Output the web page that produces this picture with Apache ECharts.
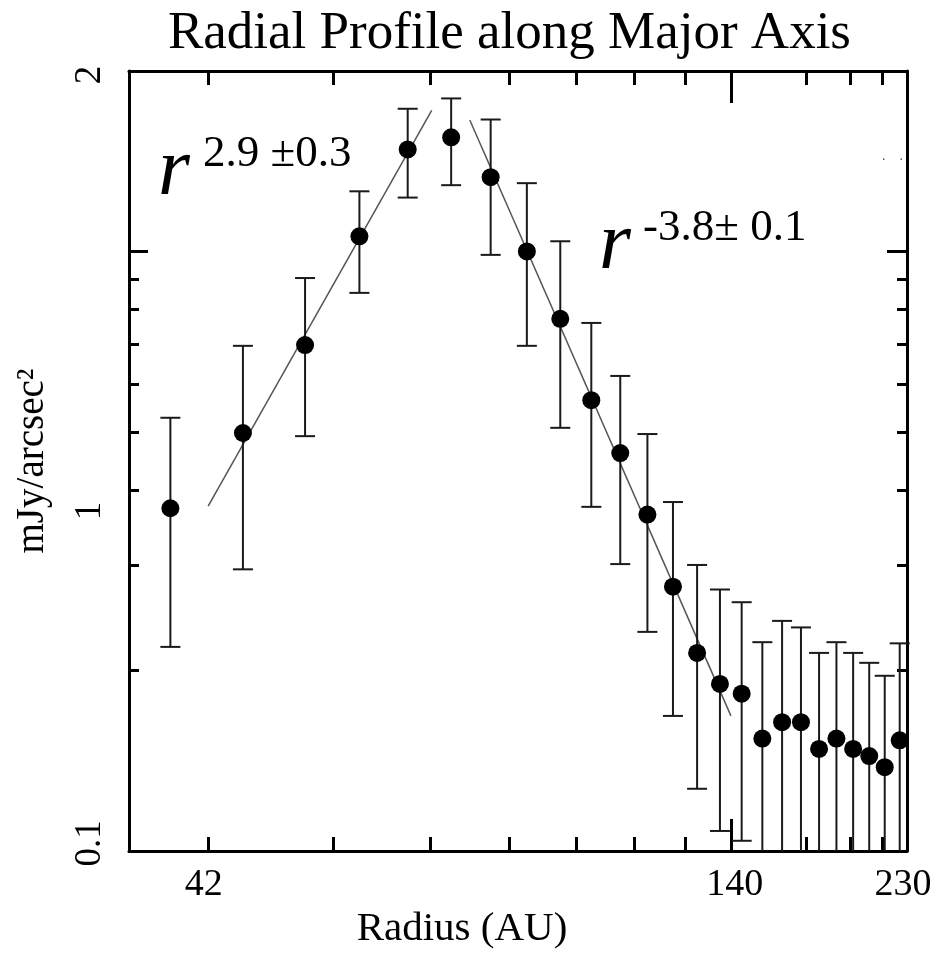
<!DOCTYPE html>
<html>
<head>
<meta charset="utf-8">
<script src="https://cdn.jsdelivr.net/npm/echarts@6/dist/echarts.min.js"></script>
<style>
html,body{margin:0;padding:0;background:#fff;}
#chart{width:942px;height:955px;}
</style>
</head>
<body>
<div id="chart"></div>
<script>
// ---- data ----
const radiusAU = [27.5, 32.5, 37.5, 42.5, 47.5, 52.5, 57.5, 62.5, 67.5, 72.5, 77.5, 82.5, 87.5,
                  92.5, 97.5, 102.5, 107.5, 112.5, 117.5, 122.5, 127.5, 132.5, 137.5, 142.5, 147.5];
const brightness = [0.373, 0.498, 0.698, 1.06, 1.48, 1.55, 1.33, 1.00, 0.772, 0.565, 0.461, 0.364, 0.276,
                    0.214, 0.190, 0.183, 0.154, 0.164, 0.164, 0.148, 0.154, 0.148, 0.144, 0.138, 0.153];
const errUpper = [0.528, 0.696, 0.903, 1.26, 1.73, 1.80, 1.66, 1.30, 1.04, 0.760, 0.620, 0.496, 0.382,
                  0.300, 0.273, 0.260, 0.223, 0.242, 0.236, 0.214, 0.223, 0.214, 0.206, 0.196, 0.222];
const errLower = [0.219, 0.295, 0.492, 0.853, 1.23, 1.29, 0.987, 0.696, 0.508, 0.375, 0.301, 0.232, 0.168,
                  0.127, 0.108, 0.104, 0.08, 0.08, 0.08, 0.08, 0.08, 0.08, 0.08, 0.08, 0.08];

// power-law fits (end points)
const fitInnerX = [30, 50.2];
const fitInnerY = [0.376, 1.72];
const fitOuterX = [54.8, 100];
const fitOuterY = [1.657, 0.168];

// axes
const xRange = [25, 150];
const yRange = [0.1, 2];
const xMinorTicks = [30, 40, 50, 60, 70, 80, 90, 119, 131.5, 141.6];
const xMajorTicks = [100];
const yMinorTicks = [0.2, 0.3, 0.4, 0.5, 0.6, 0.7, 0.8, 0.9];
const yMajorTicks = [1];
const xLabelAt = [29.7, 100.9, 148.6];
const xLabelText = ['42', '140', '230'];
const yLabelAt = [0.103, 0.369, 1.97];
const yLabelText = ['0.1', '1', '2'];

const titleText = 'Radial Profile along Major Axis';
const xName = 'Radius (AU)';
const yName = 'mJy/arcsec\u00B2';
const fitInnerLabel = ['r', '2.9 \u00B10.3'];
const fitOuterLabel = ['r', '-3.8\u00B1 0.1'];

// ---- chart ----
const FONT = '"Liberation Serif", "Times New Roman", serif';
function pickLabel(val, at, txt) {
  let best = 0, bd = Infinity;
  for (let i = 0; i < at.length; i++) {
    const d = Math.abs(Math.log(val) - Math.log(at[i]));
    if (d < bd) { bd = d; best = i; }
  }
  return txt[best];
}
function axisBase(type, pos, range) {
  return {
    type: 'log', logBase: 10, min: range[0], max: range[1], position: pos,
    splitLine: { show: false }, minorTick: { show: false }, minorSplitLine: { show: false },
    axisLine: { show: false }, axisLabel: { show: false }, axisTick: { show: false }
  };
}
const lineBlack = { color: '#000', width: 3 };

const xAxes = [];
const yAxes = [];
xAxes.push(Object.assign(axisBase('x', 'bottom', xRange), {
  axisLine: { show: true, onZero: false, lineStyle: lineBlack },
  axisTick: { show: true, inside: true, length: 14, customValues: xMinorTicks, lineStyle: lineBlack },
  axisLabel: {
    show: true, customValues: xLabelAt, margin: 15, hideOverlap: false,
    fontFamily: FONT, fontSize: 38, color: '#000',
    formatter: v => pickLabel(v, xLabelAt, xLabelText)
  },
  name: xName, nameLocation: 'middle', nameGap: 52,
  nameTextStyle: { fontFamily: FONT, fontSize: 41, color: '#000', padding: [0, 112, 0, 0] }
}));
xAxes.push(Object.assign(axisBase('x', 'bottom', xRange), {
  axisTick: { show: true, inside: true, length: 32, customValues: xMajorTicks, lineStyle: lineBlack }
}));
xAxes.push(Object.assign(axisBase('x', 'top', xRange), {
  axisLine: { show: true, onZero: false, lineStyle: lineBlack },
  axisTick: { show: true, inside: true, length: 14, customValues: xMinorTicks, lineStyle: lineBlack }
}));
xAxes.push(Object.assign(axisBase('x', 'top', xRange), {
  axisTick: { show: true, inside: true, length: 32, customValues: xMajorTicks, lineStyle: lineBlack }
}));

yAxes.push(Object.assign(axisBase('y', 'left', yRange), {
  axisLine: { show: true, onZero: false, lineStyle: lineBlack },
  axisTick: { show: true, inside: true, length: 10, customValues: yMinorTicks, lineStyle: lineBlack },
  axisLabel: {
    show: true, customValues: yLabelAt, margin: 20, rotate: 90, hideOverlap: false,
    fontFamily: FONT, fontSize: 37, color: '#000',
    formatter: v => pickLabel(v, yLabelAt, yLabelText)
  },
  name: yName, nameLocation: 'middle', nameGap: 77,
  nameTextStyle: { fontFamily: FONT, fontSize: 39, color: '#000' }
}));
yAxes.push(Object.assign(axisBase('y', 'left', yRange), {
  axisTick: { show: true, inside: true, length: 19, customValues: yMajorTicks, lineStyle: lineBlack }
}));
yAxes.push(Object.assign(axisBase('y', 'right', yRange), {
  axisLine: { show: true, onZero: false, lineStyle: lineBlack },
  axisTick: { show: true, inside: true, length: 10, customValues: yMinorTicks, lineStyle: lineBlack }
}));
yAxes.push(Object.assign(axisBase('y', 'right', yRange), {
  axisTick: { show: true, inside: true, length: 20, customValues: yMajorTicks, lineStyle: lineBlack }
}));

const points = radiusAU.map((r, i) => [r, brightness[i]]);
const bars = radiusAU.map((r, i) => [r, errLower[i], errUpper[i]]);

const chart = echarts.init(document.getElementById('chart'), null, { renderer: 'canvas' });
chart.setOption({
  animation: false,
  backgroundColor: '#fff',
  title: {
    text: titleText, left: 163, top: 3,
    textStyle: { fontFamily: FONT, fontSize: 53, fontWeight: 'normal', color: '#000' }
  },
  grid: { left: 129, right: 35, top: 71, bottom: 104, containLabel: false },
  xAxis: xAxes,
  yAxis: yAxes,
  series: [
    {
      type: 'line', xAxisIndex: 0, yAxisIndex: 0, showSymbol: false, silent: true,
      data: fitInnerX.map((x, i) => [x, fitInnerY[i]]),
      lineStyle: { color: '#555', width: 1.5 }, z: 2
    },
    {
      type: 'line', xAxisIndex: 0, yAxisIndex: 0, showSymbol: false, silent: true,
      data: fitOuterX.map((x, i) => [x, fitOuterY[i]]),
      lineStyle: { color: '#555', width: 1.5 }, z: 2
    },
    {
      type: 'custom', xAxisIndex: 0, yAxisIndex: 0, data: bars, z: 3,
      renderItem: function (params, api) {
        const x = api.value(0), lo = api.value(1), hi = api.value(2);
        const pHi = api.coord([x, hi]);
        const pLo = api.coord([x, lo]);
        const cs = params.coordSys;
        const top = cs.y, bottom = cs.y + cs.height;
        const yHi = Math.max(pHi[1], top), yLo = Math.min(pLo[1], bottom);
        const st = { stroke: '#1a1a1a', lineWidth: 2 };
        const hw = 10;
        const children = [{ type: 'line', shape: { x1: pHi[0], y1: yHi, x2: pLo[0], y2: yLo }, style: st }];
        if (pHi[1] >= top) children.push({ type: 'line', shape: { x1: pHi[0] - hw, y1: pHi[1], x2: pHi[0] + hw, y2: pHi[1] }, style: st });
        if (pLo[1] <= bottom) children.push({ type: 'line', shape: { x1: pLo[0] - hw, y1: pLo[1], x2: pLo[0] + hw, y2: pLo[1] }, style: st });
        return { type: 'group', children: children };
      }
    },
    {
      type: 'scatter', xAxisIndex: 0, yAxisIndex: 0, data: points,
      symbol: 'circle', symbolSize: 18, itemStyle: { color: '#000', opacity: 1 }, z: 4
    }
  ],
  graphic: [
    { type: 'text', left: 158, top: 131, style: { text: fitInnerLabel[0], fontStyle: 'italic', fontSize: 82, fontFamily: FONT, fill: '#000' } },
    { type: 'text', left: 203, top: 132, style: { text: fitInnerLabel[1], fontSize: 45, fontFamily: FONT, fill: '#000' } },
    { type: 'text', left: 599, top: 205, style: { text: fitOuterLabel[0], fontStyle: 'italic', fontSize: 82, fontFamily: FONT, fill: '#000' } },
    { type: 'text', left: 643, top: 206, style: { text: fitOuterLabel[1], fontSize: 45, fontFamily: FONT, fill: '#000' } },
    { type: 'text', left: 882, top: 149, style: { text: '.\u2003.', fontSize: 14, fontFamily: FONT, fill: '#555' } }
  ]
});
</script>
</body>
</html>
